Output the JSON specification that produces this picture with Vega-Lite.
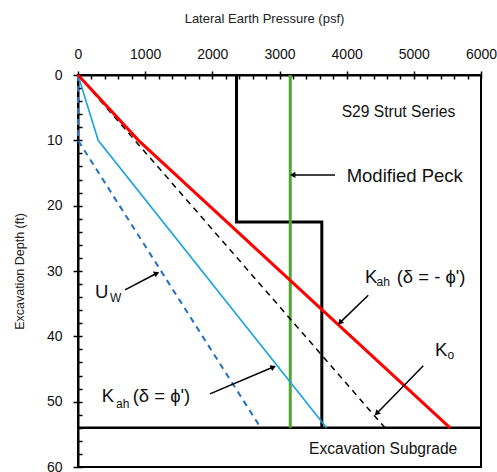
{
  "$schema": "https://vega.github.io/schema/vega-lite/v6.json",
  "width": 403,
  "height": 392,
  "autosize": "none",
  "padding": {"left": 78, "top": 75, "right": 16, "bottom": 5},
  "config": {
    "view": {"stroke": "black", "strokeWidth": 2},
    "font": "Liberation Sans",
    "axis": {"grid": false, "domainColor": "black", "tickColor": "black", "labelColor": "#111", "titleColor": "#222", "titleFontWeight": "normal"}
  },
  "datasets": {
    "lines": [
      {"s": "red", "i": 0, "x": 0, "y": 0},
      {"s": "red", "i": 1, "x": 900, "y": 10},
      {"s": "red", "i": 2, "x": 5540, "y": 54},
      {"s": "ko", "i": 0, "x": 0, "y": 0},
      {"s": "ko", "i": 1, "x": 4570, "y": 54},
      {"s": "blue", "i": 0, "x": 0, "y": 0},
      {"s": "blue", "i": 1, "x": 300, "y": 10},
      {"s": "blue", "i": 2, "x": 3700, "y": 54},
      {"s": "uw", "i": 0, "x": 0, "y": 0},
      {"s": "uw", "i": 1, "x": 0, "y": 10},
      {"s": "uw", "i": 2, "x": 2720, "y": 54},
      {"s": "step", "i": 0, "x": 2360, "y": 0},
      {"s": "step", "i": 1, "x": 2360, "y": 22.5},
      {"s": "step", "i": 2, "x": 3630, "y": 22.5},
      {"s": "step", "i": 3, "x": 3630, "y": 54},
      {"s": "green", "i": 0, "x": 3160, "y": 0},
      {"s": "green", "i": 1, "x": 3160, "y": 54},
      {"s": "sub", "i": 0, "x": 0, "y": 54},
      {"s": "sub", "i": 1, "x": 6000, "y": 54}
    ],
    "arrows": [
      {"a": "peck", "p": "t", "x": 3826, "y": 15.3},
      {"a": "peck", "p": "h", "x": 3196, "y": 15.3},
      {"a": "kneg", "p": "t", "x": 4322, "y": 33.7},
      {"a": "kneg", "p": "h", "x": 3900, "y": 37.9},
      {"a": "ko", "p": "t", "x": 5141, "y": 44.5},
      {"a": "ko", "p": "h", "x": 4447, "y": 51.8},
      {"a": "kpos", "p": "t", "x": 1965, "y": 48.8},
      {"a": "kpos", "p": "h", "x": 2908, "y": 44.7},
      {"a": "uw", "p": "t", "x": 700, "y": 32.9},
      {"a": "uw", "p": "h", "x": 1172, "y": 30.35}
    ],
    "texts": [
      {"k": "mid", "t": "S29 Strut Series", "x": 3926, "y": 5.6},
      {"k": "big", "t": "Modified Peck", "x": 4000, "y": 15.4},
      {"k": "mid", "t": "Excavation Subgrade", "x": 3439, "y": 57.2},
      {"k": "big", "t": "K", "x": 4273, "y": 30.9},
      {"k": "sub", "t": "ah", "x": 4444, "y": 31.7},
      {"k": "big", "t": "(δ = - ϕ')", "x": 4744, "y": 30.9},
      {"k": "big", "t": "K", "x": 5315, "y": 42.1},
      {"k": "sub", "t": "o", "x": 5500, "y": 42.9},
      {"k": "big", "t": "K", "x": 352, "y": 49.2},
      {"k": "sub", "t": "ah", "x": 566, "y": 50.3},
      {"k": "big", "t": "(δ =  ϕ')", "x": 814, "y": 49.2},
      {"k": "big", "t": "U", "x": 253, "y": 33.2},
      {"k": "sub", "t": "W", "x": 476, "y": 34.2}
    ]
  },
  "layer": [
    {
      "data": {"name": "lines"},
      "transform": [{"filter": "datum.s == 'sub'"}],
      "mark": {"type": "line", "color": "black", "strokeWidth": 2.5},
      "encoding": {
        "x": {"field": "x", "type": "quantitative", "scale": {"domain": [0, 6000], "nice": false},
          "axis": {"orient": "top", "values": [0, 1000, 2000, 3000, 4000, 5000, 6000], "format": "d", "title": "Lateral Earth Pressure (psf)", "titleFontSize": 13, "titlePadding": 22, "titleX": 186, "labelFontSize": 14, "labelPadding": 10, "tickSize": 4, "tickWidth": 1.5, "domainWidth": 2, "labelFlush": false}},
        "y": {"field": "y", "type": "quantitative", "scale": {"domain": [0, 60], "nice": false, "reverse": true},
          "axis": {"orient": "left", "values": [0, 10, 20, 30, 40, 50, 60], "format": "d", "title": "Excavation Depth (ft)", "titleFontSize": 12.5, "titlePadding": 20, "labelFontSize": 14, "labelPadding": 11, "tickSize": 5, "tickWidth": 1.5, "domainWidth": 2, "labelFlush": false}},
        "order": {"field": "i"}
      }
    },
    {
      "data": {"name": "lines"},
      "transform": [{"filter": "datum.s == 'step'"}],
      "mark": {"type": "line", "color": "black", "strokeWidth": 3},
      "encoding": {
        "x": {"field": "x", "type": "quantitative", "scale": {"domain": [0, 6000], "nice": false},
          "axis": {"orient": "top", "values": [0, 200, 400, 600, 800, 1000, 1200, 1400, 1600, 1800, 2000, 2200, 2400, 2600, 2800, 3000, 3200, 3400, 3600, 3800, 4000, 4200, 4400, 4600, 4800, 5000, 5200, 5400, 5600, 5800, 6000], "labels": false, "domain": false, "title": null, "tickSize": -4, "tickWidth": 1.5}},
        "y": {"field": "y", "type": "quantitative", "scale": {"domain": [0, 60], "nice": false, "reverse": true},
          "axis": {"orient": "left", "values": [0, 2, 4, 6, 8, 10, 12, 14, 16, 18, 20, 22, 24, 26, 28, 30, 32, 34, 36, 38, 40, 42, 44, 46, 48, 50, 52, 54, 56, 58, 60], "labels": false, "domain": false, "title": null, "tickSize": -4, "tickWidth": 1.5}},
        "order": {"field": "i"}
      }
    },
    {
      "data": {"name": "lines"},
      "transform": [{"filter": "datum.s == 'green'"}],
      "mark": {"type": "line", "color": "#4ea72e", "strokeWidth": 3},
      "encoding": {"x": {"field": "x", "type": "quantitative", "axis": null}, "y": {"field": "y", "type": "quantitative", "axis": null}, "order": {"field": "i"}}
    },
    {
      "data": {"name": "lines"},
      "transform": [{"filter": "datum.s == 'ko'"}],
      "mark": {"type": "line", "color": "black", "strokeWidth": 1.5, "strokeDash": [6, 5]},
      "encoding": {"x": {"field": "x", "type": "quantitative", "axis": null}, "y": {"field": "y", "type": "quantitative", "axis": null}, "order": {"field": "i"}}
    },
    {
      "data": {"name": "lines"},
      "transform": [{"filter": "datum.s == 'uw'"}],
      "mark": {"type": "line", "color": "#1f6fc4", "strokeWidth": 2, "strokeDash": [6, 5]},
      "encoding": {"x": {"field": "x", "type": "quantitative", "axis": null}, "y": {"field": "y", "type": "quantitative", "axis": null}, "order": {"field": "i"}}
    },
    {
      "data": {"name": "lines"},
      "transform": [{"filter": "datum.s == 'blue'"}],
      "mark": {"type": "line", "color": "#18a3dc", "strokeWidth": 1.6},
      "encoding": {"x": {"field": "x", "type": "quantitative", "axis": null}, "y": {"field": "y", "type": "quantitative", "axis": null}, "order": {"field": "i"}}
    },
    {
      "data": {"name": "lines"},
      "transform": [{"filter": "datum.s == 'red'"}],
      "mark": {"type": "line", "color": "#ff0000", "strokeWidth": 3},
      "encoding": {"x": {"field": "x", "type": "quantitative", "axis": null}, "y": {"field": "y", "type": "quantitative", "axis": null}, "order": {"field": "i"}}
    },
    {
      "data": {"name": "arrows"},
      "mark": {"type": "line", "color": "black", "strokeWidth": 1.5},
      "encoding": {"x": {"field": "x", "type": "quantitative", "axis": null}, "y": {"field": "y", "type": "quantitative", "axis": null}, "detail": {"field": "a"}}
    },
    {
      "data": {"name": "arrows"},
      "transform": [{"filter": "datum.p == 'h' && datum.a == 'peck'"}],
      "mark": {"type": "point", "shape": "triangle-up", "filled": true, "color": "black", "size": 40, "angle": 270, "opacity": 1},
      "encoding": {"x": {"field": "x", "type": "quantitative", "axis": null}, "y": {"field": "y", "type": "quantitative", "axis": null}}
    },
    {
      "data": {"name": "arrows"},
      "transform": [{"filter": "datum.p == 'h' && (datum.a == 'kneg' || datum.a == 'ko')"}],
      "mark": {"type": "point", "shape": "triangle-up", "filled": true, "color": "black", "size": 40, "angle": 225, "opacity": 1},
      "encoding": {"x": {"field": "x", "type": "quantitative", "axis": null}, "y": {"field": "y", "type": "quantitative", "axis": null}}
    },
    {
      "data": {"name": "arrows"},
      "transform": [{"filter": "datum.p == 'h' && (datum.a == 'kpos' || datum.a == 'uw')"}],
      "mark": {"type": "point", "shape": "triangle-up", "filled": true, "color": "black", "size": 40, "angle": 65, "opacity": 1},
      "encoding": {"x": {"field": "x", "type": "quantitative", "axis": null}, "y": {"field": "y", "type": "quantitative", "axis": null}}
    },
    {
      "data": {"name": "texts"},
      "transform": [{"filter": "datum.k == 'big'"}],
      "mark": {"type": "text", "align": "left", "baseline": "middle", "fontSize": 18.5, "color": "#111"},
      "encoding": {"x": {"field": "x", "type": "quantitative", "axis": null}, "y": {"field": "y", "type": "quantitative", "axis": null}, "text": {"field": "t"}}
    },
    {
      "data": {"name": "texts"},
      "transform": [{"filter": "datum.k == 'mid'"}],
      "mark": {"type": "text", "align": "left", "baseline": "middle", "fontSize": 15.6, "color": "#111"},
      "encoding": {"x": {"field": "x", "type": "quantitative", "axis": null}, "y": {"field": "y", "type": "quantitative", "axis": null}, "text": {"field": "t"}}
    },
    {
      "data": {"name": "texts"},
      "transform": [{"filter": "datum.k == 'sub'"}],
      "mark": {"type": "text", "align": "left", "baseline": "middle", "fontSize": 12, "color": "#111"},
      "encoding": {"x": {"field": "x", "type": "quantitative", "axis": null}, "y": {"field": "y", "type": "quantitative", "axis": null}, "text": {"field": "t"}}
    }
  ],
  "resolve": {"axis": {"x": "independent", "y": "independent"}}
}
